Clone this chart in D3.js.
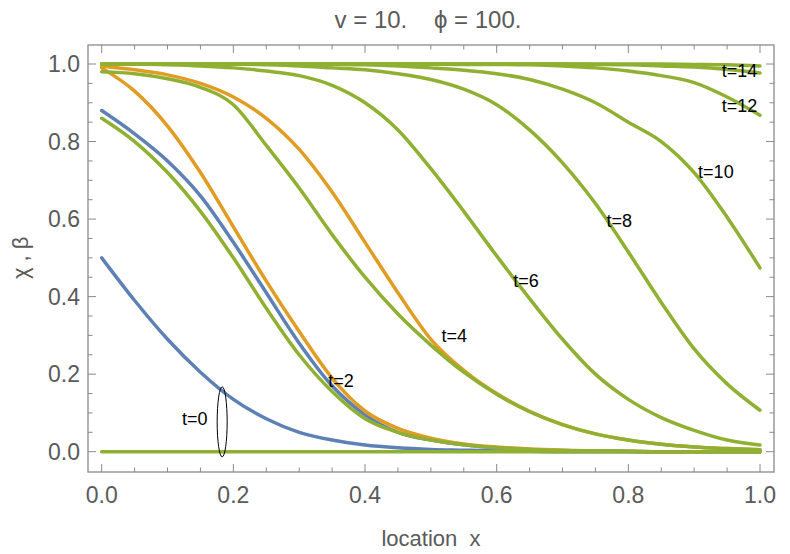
<!DOCTYPE html>
<html>
<head>
<script src="https://cdn.jsdelivr.net/npm/d3@7"></script>
<style>
  body { margin: 0; background: #fff; }
  text { font-family: "Liberation Sans", Arial, sans-serif; }
</style>
</head>
<body>
<div id="chart"></div>
<script>
// ========= Data ========= //
const xs = [0, .05, .1, .15, .2, .25, .3, .35, .4, .45, .5, .55, .6, .65, .7, .75, .8, .85, .9, .95, 1];

const blueT0   = [.5, .39, .29, .205, .135, .085, .05, .03, .017, .01, .006, .004, .002, .001, 0, 0, 0, 0, 0, 0, 0];
const blueT2   = [.88, .82, .75, .66, .54, .41, .28, .17, .095, .05, .03, .018, .01, .006, .003, .002, .001, 0, 0, 0, 0];
const orangeT2 = [.99, .93, .84, .72, .58, .44, .31, .19, .105, .06, .035, .02, .012, .007, .004, .002, .001, 0, 0, 0, 0];
const orangeT4 = [.995, .985, .972, .95, .915, .86, .78, .67, .54, .41, .29, .21, .15, .104, .07, .046, .03, .019, .012, .008, .005];
const greenT0  = [0, 0, 0, 0, 0, 0, 0, 0, 0, 0, 0, 0, 0, 0, 0, 0, 0, 0, 0, 0, 0];
const greenT2  = [.86, .8, .72, .62, .5, .37, .25, .155, .085, .05, .03, .018, .01, .006, .003, .002, .001, 0, 0, 0, 0];
const greenT4  = [.98, .975, .962, .94, .895, .79, .68, .56, .45, .355, .275, .205, .148, .103, .07, .046, .03, .019, .012, .008, .005];
const greenT6  = [1, 1, .998, .995, .99, .982, .97, .945, .9, .83, .73, .62, .505, .395, .29, .2, .135, .088, .055, .03, .017];
const greenT8  = [1, 1, 1, 1, 1, .998, .995, .99, .985, .975, .96, .935, .895, .83, .745, .64, .515, .385, .265, .175, .107];
const greenT10 = [1, 1, 1, 1, 1, 1, 1, .999, .998, .995, .99, .984, .975, .96, .935, .9, .85, .8, .72, .605, .474];
const greenT12 = [1, 1, 1, 1, 1, 1, 1, 1, 1, 1, 1, .999, .999, .998, .995, .99, .982, .97, .952, .915, .868];
const greenT14 = [1, 1, 1, 1, 1, 1, 1, 1, 1, 1, 1, 1, 1, 1, 1, .999, .998, .995, .992, .986, .977];
const greenT16 = [1, 1, 1, 1, 1, 1, 1, 1, 1, 1, 1, 1, 1, 1, 1, 1, 1, 1, .999, .998, .995];

const labels = ['t=0', 't=2', 't=4', 't=6', 't=8', 't=10', 't=12', 't=14'];
const labelX = [.122, .344, .516, .625, .767, .906, .942, .942];
const labelY = [.069, .167, .283, .425, .58, .705, .876, .967];

const xTicks = [0, .2, .4, .6, .8, 1];
const yTicks = [0, .2, .4, .6, .8, 1];

// ========= Setup ========= //
const width = 790, height = 554;
const frame = { left: 88, right: 774, top: 45, bottom: 472 };

const x = d3.scaleLinear().domain([0, 1]).range([101.7, 760]);
const y = d3.scaleLinear().domain([0, 1]).range([451.7, 64]);

const svg = d3.select('#chart').append('svg')
  .attr('width', width)
  .attr('height', height);

const grey = '#5a5a5a';
const frameColor = '#8a8a8a';

// ========= Ticks ========= //
const ticks = svg.append('g').attr('stroke', frameColor).attr('stroke-width', 1);
d3.range(0, 1.0001, 0.05).forEach(v => {
  const major = Math.abs(v * 5 - Math.round(v * 5)) < 1e-6;
  const len = major ? 8 : 4.5;
  ticks.append('line').attr('x1', x(v)).attr('x2', x(v)).attr('y1', frame.bottom).attr('y2', frame.bottom - len);
  ticks.append('line').attr('x1', x(v)).attr('x2', x(v)).attr('y1', frame.top).attr('y2', frame.top + len);
  ticks.append('line').attr('y1', y(v)).attr('y2', y(v)).attr('x1', frame.left).attr('x2', frame.left + len);
  ticks.append('line').attr('y1', y(v)).attr('y2', y(v)).attr('x1', frame.right).attr('x2', frame.right - len);
});

svg.append('rect')
  .attr('x', frame.left).attr('y', frame.top)
  .attr('width', frame.right - frame.left).attr('height', frame.bottom - frame.top)
  .attr('fill', 'none').attr('stroke', frameColor).attr('stroke-width', 1.3);

svg.append('g').selectAll('text').data(xTicks).join('text')
  .attr('x', d => x(d)).attr('y', 503)
  .attr('text-anchor', 'middle')
  .attr('fill', grey).attr('font-size', 23)
  .text(d => d.toFixed(1));

svg.append('g').selectAll('text').data(yTicks).join('text')
  .attr('x', 80).attr('y', d => y(d) + 8)
  .attr('text-anchor', 'end')
  .attr('fill', grey).attr('font-size', 23)
  .text(d => d.toFixed(1));

// ========= Titles ========= //
svg.append('text')
  .attr('x', 428).attr('y', 28)
  .attr('text-anchor', 'middle')
  .attr('fill', grey).attr('font-size', 24)
  .attr('font-family', 'DejaVu Sans Mono')
  .attr('xml:space', 'preserve')
  .text('v = 10.    ϕ = 100.');

svg.append('text')
  .attr('x', 431).attr('y', 546)
  .attr('text-anchor', 'middle')
  .attr('fill', grey).attr('font-size', 22)
  .attr('xml:space', 'preserve')
  .text('location  x');

svg.append('text')
  .attr('transform', `translate(28, ${y(0.5)}) rotate(-90)`)
  .attr('text-anchor', 'middle')
  .attr('fill', grey).attr('font-size', 22)
  .attr('xml:space', 'preserve')
  .text('χ , β');

// ========= Curves ========= //
const line = d3.line()
  .x((d, i) => x(xs[i]))
  .y(d => y(d))
  .curve(d3.curveMonotoneX);

const series = [
  { values: blueT0, color: '#5E81B5' },
  { values: blueT2, color: '#5E81B5' },
  { values: orangeT2, color: '#E19C24' },
  { values: orangeT4, color: '#E19C24' },
  { values: greenT0, color: '#8FB032' },
  { values: greenT2, color: '#8FB032' },
  { values: greenT4, color: '#8FB032' },
  { values: greenT6, color: '#8FB032' },
  { values: greenT8, color: '#8FB032' },
  { values: greenT10, color: '#8FB032' },
  { values: greenT12, color: '#8FB032' },
  { values: greenT14, color: '#8FB032' },
  { values: greenT16, color: '#8FB032' }
];

svg.append('g').selectAll('path').data(series).join('path')
  .attr('d', d => line(d.values))
  .attr('fill', 'none')
  .attr('stroke', d => d.color)
  .attr('stroke-width', 3.5)
  .attr('stroke-linecap', 'round');

// ========= Labels ========= //
svg.append('g').selectAll('text').data(labels).join('text')
  .attr('x', (d, i) => x(labelX[i]))
  .attr('y', (d, i) => y(labelY[i]))
  .attr('fill', '#000').attr('font-size', 18)
  .text(d => d);

svg.append('ellipse')
  .attr('cx', x(0.183)).attr('cy', y(0.077))
  .attr('rx', 5).attr('ry', 35)
  .attr('fill', 'none').attr('stroke', '#000').attr('stroke-width', 1);
</script>
</body>
</html>
